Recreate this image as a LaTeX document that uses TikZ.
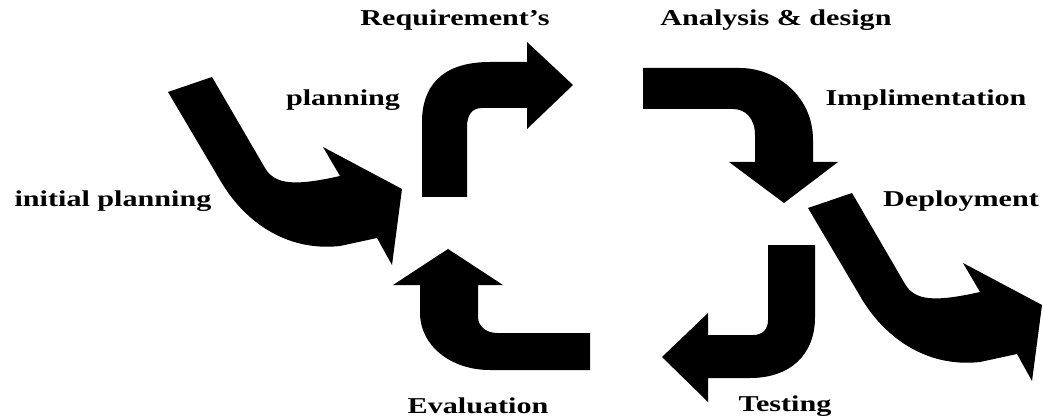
\documentclass[tikz,border=0pt]{standalone}
\usepackage{fontspec}
\setmainfont{Liberation Serif}
\newfontfamily\labfont[FakeStretch=1.33]{Liberation Serif}
\begin{document}
\begin{tikzpicture}[x=0.75pt,y=-0.75pt,
  blk/.style={fill=black,draw=none},
  lab/.style={font=\labfont\bfseries\fontsize{17}{20}\selectfont,inner sep=0pt,anchor=center},
  swoosh/.pic={
    \path[blk] (168,92) -- (220,180) .. controls (243,220) and (285,252) .. (340,246)
      -- (377,238) -- (392,265) -- (402,189) -- (323,147) -- (340,176)
      .. controls (295,186) and (275,185) .. (265,168) -- (212,77) -- cycle;
  }]
\useasboundingbox (0,0) rectangle (1044,420);
% initial planning arrow
\pic at (0,0) {swoosh};
% deployment arrow
\pic at (640,116) {swoosh};
% requirement arrow
\path[blk] (422,197) -- (422,122) .. controls (422,88) and (440,62) .. (490,62)
  -- (527,62) -- (527,42) -- (573,85) -- (527,129) -- (527,108) -- (482,108)
  .. controls (472,108) and (467,115) .. (467,127) -- (467,197) -- cycle;
% analysis arrow
\path[blk] (643,68) -- (740,68) .. controls (775,68) and (813,95) .. (813,140)
  -- (813,162) -- (838,162) -- (784,203) -- (729,162) -- (755,162) -- (755,135)
  .. controls (755,118) and (745,109) .. (733,109) -- (643,109) -- cycle;
% testing arrow
\path[blk] (768,245) -- (815,245) -- (815,317) .. controls (815,355) and (790,378) .. (750,378)
  -- (708,378) -- (708,402) -- (662,357) -- (708,313) -- (708,335) -- (753,335)
  .. controls (762,335) and (768,330) .. (768,320) -- cycle;
% evaluation arrow
\path[blk] (590,333) -- (590,370) -- (490,370) .. controls (450,370) and (420,345) .. (420,313)
  -- (420,285) -- (393,285) -- (448,249) -- (503,285) -- (478,285) -- (478,317)
  .. controls (478,326) and (486,333) .. (497,333) -- cycle;
% labels
\node[lab] (req) at (455,20) {Requirement’s};
\node[lab] (ana) at (776,20) {Analysis \& design};
\node[lab] (pla) at (343,100) {planning};
\node[lab] (imp) at (926,100) {Implimentation};
\node[lab] (ini) at (113,201) {initial planning};
\node[lab] (dep) at (961,201) {Deployment};
\node[lab] (eva) at (478,406) {Evaluation};
\node[lab] (tes) at (785,406) {Testing};
\end{tikzpicture}
\end{document}
